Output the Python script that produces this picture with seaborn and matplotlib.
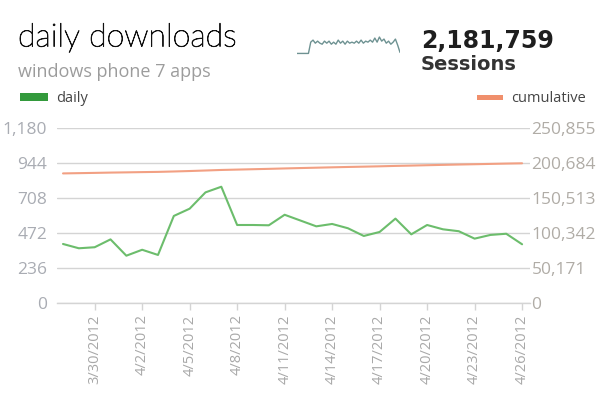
import matplotlib
matplotlib.use("Agg")
import matplotlib.pyplot as plt
import matplotlib.dates as mdates
import matplotlib.patheffects as pe
from matplotlib.patches import Rectangle
import seaborn as sns
import pandas as pd

# ---------------- data ----------------
start_date = "2012-03-28"
end_date = "2012-04-26"
daily = [400, 371, 378, 431, 321, 361, 326, 589, 638, 748, 786, 528, 528, 526, 597,
         558, 519, 535, 506, 454, 481, 571, 465, 528, 499, 486, 436, 461, 469, 398]
cumulative = [186190, 186561, 186939, 187370, 187691, 188052, 188378, 188967, 189605,
              190353, 191139, 191667, 192195, 192721, 193318, 193876, 194395, 194930,
              195436, 195890, 196371, 196942, 197407, 197935, 198434, 198920, 199356,
              199817, 200286, 200684]
left_ticks = [0, 236, 472, 708, 944, 1180]
left_labels = ["0", "236", "472", "708", "944", "1,180"]
right_ticks = [0, 50171, 100342, 150513, 200684, 250855]
right_labels = ["0", "50,171", "100,342", "150,513", "200,684", "250,855"]
x_tick_dates = ["2012-03-30", "2012-04-02", "2012-04-05", "2012-04-08", "2012-04-11",
                "2012-04-14", "2012-04-17", "2012-04-20", "2012-04-23", "2012-04-26"]
x_tick_labels = ["3/30/2012", "4/2/2012", "4/5/2012", "4/8/2012", "4/11/2012",
                 "4/14/2012", "4/17/2012", "4/20/2012", "4/23/2012", "4/26/2012"]
spark = [0, 0, 0, 0, 0, 0, 11, 13, 10, 12, 10, 9, 12, 10, 12, 9, 11, 9, 13, 10, 12, 9,
         12, 10, 11, 10, 12, 10, 13, 10, 12, 11, 13, 11, 15, 11, 16, 12, 14, 10, 12, 9,
         11, 14, 8, 1]
title = "daily downloads"
subtitle = "windows phone 7 apps"
sessions_value = "2,181,759"
sessions_label = "Sessions"

# ---------------- style ----------------
sns.set_theme(style="white")
plt.rcParams['font.family'] = ['Open Sans', 'DejaVu Sans']

W, H = 604, 401
fig = plt.figure(figsize=(W / 100, H / 100), dpi=100)
fig.patch.set_facecolor("white")

def fy(py):
    return 1 - py / H

GREEN_LINE = "#6cbd6c"
GREEN_KEY = "#339a3c"
ORANGE_LINE = "#f2a083"
ORANGE_KEY = "#f08f6c"
GRID = "#d4d4d4"
TICKC = "#a9acb3"

df = pd.DataFrame({
    "date": pd.date_range(start_date, end_date, freq="D"),
    "daily": daily,
    "cumulative": cumulative,
})

ax = fig.add_axes([57 / W, fy(303.3), (530 - 57) / W, (303.3 - 128.3) / H])
sns.lineplot(data=df, x="date", y="daily", ax=ax, color=GREEN_LINE, lw=1.5)
ax2 = ax.twinx()
sns.lineplot(data=df, x="date", y="cumulative", ax=ax2, color=ORANGE_LINE, lw=1.5)

d0 = mdates.date2num(pd.Timestamp(start_date))
d1 = mdates.date2num(pd.Timestamp(end_date))
ax.set_xlim(d0 - 0.38, d1 + 0.5)
ax.set_ylim(0, 1180)
ax2.set_ylim(0, 250855)

ax.set_yticks(left_ticks)
ax.set_yticklabels(left_labels)
ax2.set_yticks(right_ticks)
ax2.set_yticklabels(right_labels)
ax.set_xticks([mdates.date2num(pd.Timestamp(d)) for d in x_tick_dates])
ax.set_xticklabels(x_tick_labels, rotation=90)

ax.grid(axis="y", color=GRID, lw=1)
ax.grid(axis="x", visible=False)
ax2.grid(False)
for a in (ax, ax2):
    for s in a.spines.values():
        s.set_visible(False)
    a.set_xlabel("")
    a.set_ylabel("")
    a.set_facecolor("none")
ax.spines["bottom"].set_visible(True)
ax.spines["bottom"].set_color(GRID)
ax.spines["bottom"].set_linewidth(1)

ax.tick_params(axis="y", length=0, pad=7, labelsize=12.5, labelcolor=TICKC)
ax2.tick_params(axis="y", length=0, pad=1, labelsize=12.5, labelcolor="#b0aca6")
ax.tick_params(axis="x", length=5, width=1, color=GRID, direction="out", pad=3,
               labelsize=10.5, labelcolor="#a8a8a8", bottom=True)
ax2.tick_params(axis="x", bottom=False, labelbottom=False)

# ---------------- header ----------------
fig.text(18 / W, fy(46.5), title, fontsize=23.2, fontweight="light",
         family=["Lato", "Open Sans", "DejaVu Sans"],
         color="#111111", va="baseline", ha="left",
         path_effects=[pe.withStroke(linewidth=0.6, foreground="#111111")])
fig.text(18 / W, fy(77), subtitle, fontsize=13, color="#9c9c9c",
         va="baseline", ha="left")
fig.text(421 / W, fy(48), sessions_value, fontsize=17, fontweight="bold",
         family="DejaVu Sans", color="#1e1e1e", va="baseline", ha="left")
fig.text(421 / W, fy(70.5), sessions_label, fontsize=14, fontweight="bold",
         family="DejaVu Sans", color="#333333", va="baseline", ha="left")

# legend keys
fig.patches.append(Rectangle((20 / W, fy(100.5)), 28.5 / W, 7 / H,
                             transform=fig.transFigure, color=GREEN_KEY, lw=0))
fig.text(56 / W, fy(102.5), "daily", fontsize=10.5, color="#454545",
         va="baseline", ha="left")
fig.patches.append(Rectangle((477 / W, fy(99.5)), 26 / W, 5 / H,
                             transform=fig.transFigure, color=ORANGE_KEY, lw=0))
fig.text(511 / W, fy(102.5), "cumulative", fontsize=10.5, color="#454545",
         va="baseline", ha="left")

# sparkline
sp = fig.add_axes([297 / W, fy(56), (400 - 297) / W, 20 / H])
sns.lineplot(x=list(range(len(spark))), y=spark, ax=sp, color="#6e9292", lw=1)
sp.set_xlim(0, len(spark) - 1)
sp.set_ylim(-2.5, 17)
sp.axis("off")

fig.savefig("out.png", dpi=100, facecolor="white")
